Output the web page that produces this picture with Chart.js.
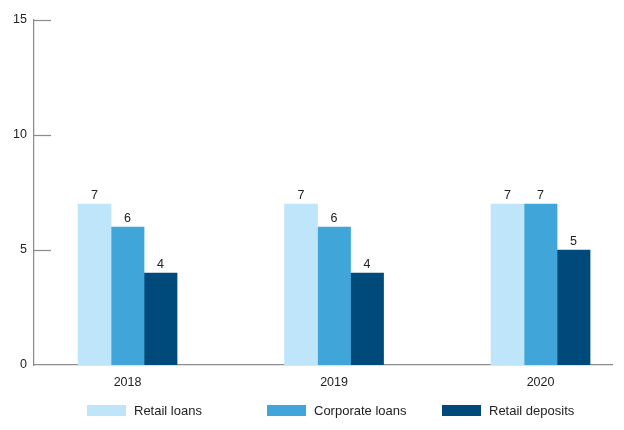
<!DOCTYPE html>
<html>
<head>
<meta charset="utf-8">
<script src="https://cdn.jsdelivr.net/npm/chart.js@4/dist/chart.umd.min.js"></script>
<style>
  html, body { margin: 0; padding: 0; background: #fff; }
  #wrap { position: relative; width: 624px; height: 430px; }
  #legend { position: absolute; left: 87px; top: 403px; display: flex; align-items: center;
            font-family: "Liberation Sans", Arial, sans-serif; font-size: 13px; color: #222; }
  .item { display: flex; align-items: center; }
  .box { width: 39px; height: 11px; margin-right: 8px; }
</style>
</head>
<body>
<div id="wrap">
  <canvas id="c" width="624" height="430"></canvas>
  <div id="legend"></div>
</div>
<script>
// Categories and series
const years = ['2018', '2019', '2020'];
const seriesNames = ['Retail loans', 'Corporate loans', 'Retail deposits'];
const retailLoans = [7, 7, 7];
const corporateLoans = [6, 6, 7];
const retailDeposits = [4, 4, 5];
const yTicks = [0, 5, 10, 15];

const colors = ['#bee5f9', '#40a5d8', '#004a7b'];
const axisColor = '#8c8c8c';
const textColor = '#222';
const fontFamily = '"Liberation Sans", Arial, sans-serif';

const seriesValues = [retailLoans, corporateLoans, retailDeposits];
const datasets = seriesValues.map((vals, s) => ({
  label: seriesNames[s],
  data: vals.map((v, i) => ({ x: i, y: v })),
  backgroundColor: colors[s],
  borderWidth: 0,
  barThickness: 33
}));

// value labels above each bar
const valueLabels = {
  id: 'valueLabels',
  afterDatasetsDraw(chart) {
    const ctx = chart.ctx;
    ctx.save();
    ctx.font = '12.5px ' + fontFamily;
    ctx.fillStyle = textColor;
    ctx.textAlign = 'center';
    ctx.textBaseline = 'alphabetic';
    chart.data.datasets.forEach((ds, di) => {
      chart.getDatasetMeta(di).data.forEach((bar, i) => {
        ctx.fillText(String(ds.data[i].y), bar.x, bar.y - 5);
      });
    });
    ctx.restore();
  }
};

// short tick marks pointing into the plot from the value axis
const innerTicks = {
  id: 'innerTicks',
  afterDraw(chart) {
    const y = chart.scales.y;
    const ctx = chart.ctx;
    ctx.save();
    ctx.strokeStyle = axisColor;
    ctx.lineWidth = 1.25;
    yTicks.filter(v => v > 0).forEach(v => {
      const py = Math.round(y.getPixelForValue(v)) + 0.5;
      ctx.beginPath();
      ctx.moveTo(y.right, py);
      ctx.lineTo(y.right + 17, py);
      ctx.stroke();
    });
    ctx.restore();
  }
};

new Chart(document.getElementById('c'), {
  type: 'bar',
  data: { datasets },
  options: {
    responsive: false,
    animation: false,
    layout: { padding: { top: 20, right: 12, left: 0, bottom: 0 } },
    plugins: { legend: { display: false }, tooltip: { enabled: false } },
    scales: {
      x: {
        type: 'linear',
        min: -0.453,
        max: 2.346,
        offset: false,
        grid: { display: false, drawTicks: false },
        border: { display: true, color: axisColor, width: 1.25 },
        afterBuildTicks: (scale) => { scale.ticks = years.map((_, i) => ({ value: i })); },
        afterFit: (scale) => { scale.height = 65; },
        ticks: {
          padding: 10,
          color: textColor,
          font: { family: fontFamily, size: 12.5 },
          maxRotation: 0,
          autoSkip: false,
          callback: (v) => years[v]
        }
      },
      y: {
        min: 0,
        max: 15,
        grid: { display: false, drawTicks: false },
        border: { display: true, color: axisColor, width: 1.25 },
        afterBuildTicks: (scale) => { scale.ticks = yTicks.map(v => ({ value: v })); },
        afterFit: (scale) => { scale.width = 34; },
        ticks: {
          padding: 7,
          color: textColor,
          font: { family: fontFamily, size: 12.5 }
        }
      }
    }
  },
  plugins: [valueLabels, innerTicks]
});

// legend built from the series names and colours
const legend = document.getElementById('legend');
const itemWidths = [180, 175, null];
seriesNames.forEach((name, s) => {
  const item = document.createElement('div');
  item.className = 'item';
  if (itemWidths[s]) item.style.width = itemWidths[s] + 'px';
  const box = document.createElement('span');
  box.className = 'box';
  box.style.background = colors[s];
  const label = document.createElement('span');
  label.textContent = name;
  item.appendChild(box);
  item.appendChild(label);
  legend.appendChild(item);
});
</script>
</body>
</html>
